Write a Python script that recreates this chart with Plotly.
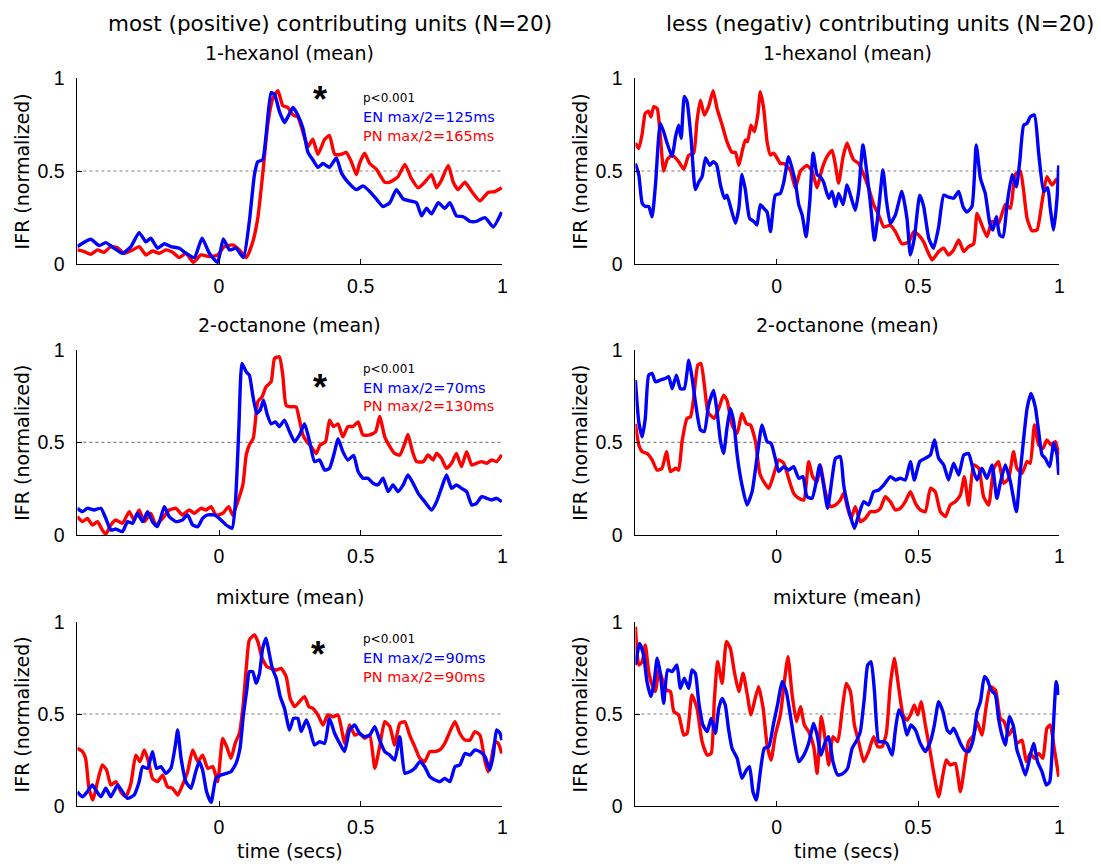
import plotly.graph_objects as go

# ---------------- data (time in s, IFR normalized) ----------------
COL_TITLES = ["most (positive) contributing units (N=20)", "less (negativ) contributing units (N=20)"]
ODOR_TITLES = ["1-hexanol (mean)", "2-octanone (mean)", "mixture (mean)"]
P_TEXT = ["p<0.001", "p<0.001", "p<0.001"]
EN_TEXT = ["EN max/2=125ms", "EN max/2=70ms", "EN max/2=90ms"]
PN_TEXT = ["PN max/2=165ms", "PN max/2=130ms", "PN max/2=90ms"]
Y_LABEL = "IFR (normalized)"
X_LABEL = "time (secs)"
TICKS = [0, 0.5, 1]

# 1-hexanol, most (positive) contributing units
HEX_POS_EN_T = [-0.500,-0.453,-0.423,-0.400,-0.370,-0.341,-0.311,-0.282,-0.258,-0.241,-0.217,-0.193,-0.170,-0.140,-0.117,-0.087,-0.060,-0.034,-0.005,0.015,0.037,0.060,0.086,0.107,0.125,0.137,0.154,0.166,0.184,0.196,0.213,0.231,0.243,0.261,0.278,0.296,0.314,0.331,0.349,0.367,0.390,0.414,0.432,0.455,0.485,0.508,0.532,0.555,0.579,0.603,0.626,0.650,0.673,0.697,0.715,0.732,0.750,0.774,0.797,0.815,0.838,0.862,0.886,0.909,0.939,0.968,0.998]
HEX_POS_EN_Y = [0.095,0.134,0.10,0.116,0.086,0.059,0.095,0.17,0.12,0.14,0.086,0.11,0.095,0.086,0.059,0.036,0.14,0.059,0.01,0.136,0.077,0.086,0.036,0.23,0.48,0.55,0.56,0.69,0.92,0.91,0.82,0.76,0.79,0.84,0.80,0.73,0.60,0.56,0.52,0.54,0.52,0.57,0.49,0.44,0.40,0.42,0.39,0.35,0.31,0.33,0.40,0.35,0.34,0.33,0.26,0.30,0.27,0.33,0.30,0.33,0.26,0.255,0.23,0.23,0.25,0.20,0.28]
HEX_POS_PN_T = [-0.500,-0.476,-0.453,-0.429,-0.406,-0.382,-0.358,-0.335,-0.305,-0.282,-0.258,-0.235,-0.211,-0.188,-0.164,-0.140,-0.117,-0.091,-0.064,-0.034,-0.005,0.019,0.048,0.072,0.096,0.119,0.137,0.154,0.172,0.190,0.208,0.225,0.243,0.261,0.278,0.296,0.314,0.331,0.349,0.373,0.390,0.408,0.432,0.449,0.467,0.485,0.496,0.514,0.532,0.555,0.585,0.603,0.632,0.656,0.679,0.703,0.726,0.750,0.768,0.785,0.809,0.827,0.844,0.868,0.892,0.921,0.950,0.974,0.998]
HEX_POS_PN_Y = [0.077,0.068,0.054,0.077,0.064,0.095,0.089,0.059,0.077,0.095,0.05,0.071,0.059,0.077,0.064,0.036,0.059,0.011,0.05,0.041,0.05,0.095,0.104,0.077,0.036,0.12,0.25,0.48,0.75,0.89,0.93,0.85,0.84,0.80,0.79,0.71,0.63,0.67,0.59,0.67,0.69,0.59,0.59,0.60,0.55,0.48,0.54,0.595,0.54,0.51,0.44,0.44,0.47,0.535,0.46,0.41,0.44,0.48,0.41,0.45,0.53,0.44,0.40,0.44,0.39,0.34,0.385,0.39,0.41]

# 1-hexanol, less (negativ) contributing units
HEX_NEG_EN_T = [-0.500,-0.488,-0.476,-0.465,-0.453,-0.441,-0.429,-0.412,-0.400,-0.388,-0.370,-0.358,-0.347,-0.338,-0.327,-0.317,-0.303,-0.288,-0.276,-0.264,-0.252,-0.237,-0.225,-0.213,-0.199,-0.185,-0.176,-0.162,-0.146,-0.134,-0.123,-0.111,-0.096,-0.081,-0.070,-0.058,-0.046,-0.034,-0.022,-0.005,0.013,0.025,0.042,0.054,0.066,0.078,0.090,0.104,0.117,0.129,0.143,0.154,0.166,0.184,0.196,0.208,0.219,0.235,0.249,0.263,0.278,0.290,0.305,0.320,0.331,0.346,0.361,0.376,0.388,0.402,0.420,0.443,0.461,0.473,0.487,0.506,0.520,0.538,0.555,0.573,0.591,0.608,0.626,0.644,0.659,0.673,0.691,0.706,0.721,0.738,0.754,0.765,0.777,0.789,0.801,0.815,0.833,0.848,0.860,0.874,0.886,0.897,0.912,0.927,0.945,0.959,0.968,0.980,0.992,0.998]
HEX_NEG_EN_Y = [0.54,0.48,0.327,0.31,0.31,0.255,0.425,0.755,0.71,0.65,0.577,0.684,0.746,0.675,0.90,0.87,0.675,0.40,0.44,0.47,0.57,0.53,0.55,0.535,0.425,0.354,0.37,0.30,0.22,0.30,0.482,0.40,0.246,0.23,0.21,0.32,0.30,0.28,0.175,0.37,0.38,0.44,0.577,0.516,0.44,0.32,0.265,0.148,0.335,0.595,0.48,0.47,0.44,0.354,0.39,0.31,0.38,0.32,0.425,0.36,0.29,0.39,0.64,0.48,0.335,0.13,0.30,0.505,0.345,0.22,0.265,0.39,0.246,0.05,0.14,0.37,0.31,0.14,0.086,0.20,0.37,0.36,0.354,0.39,0.31,0.28,0.31,0.64,0.46,0.38,0.22,0.184,0.255,0.157,0.148,0.32,0.48,0.415,0.55,0.746,0.755,0.79,0.80,0.595,0.39,0.41,0.30,0.184,0.354,0.53]
HEX_NEG_PN_T = [-0.500,-0.488,-0.476,-0.465,-0.453,-0.445,-0.435,-0.423,-0.412,-0.400,-0.388,-0.370,-0.347,-0.329,-0.311,-0.294,-0.282,-0.270,-0.256,-0.241,-0.225,-0.211,-0.193,-0.176,-0.158,-0.146,-0.134,-0.123,-0.111,-0.103,-0.091,-0.079,-0.067,-0.058,-0.046,-0.034,-0.022,-0.011,0.001,0.013,0.025,0.048,0.066,0.084,0.107,0.125,0.143,0.160,0.178,0.196,0.208,0.219,0.235,0.249,0.261,0.272,0.290,0.308,0.325,0.343,0.361,0.379,0.402,0.420,0.443,0.467,0.485,0.502,0.520,0.532,0.550,0.573,0.591,0.608,0.626,0.644,0.662,0.679,0.697,0.709,0.726,0.744,0.762,0.785,0.809,0.827,0.844,0.862,0.874,0.886,0.903,0.921,0.939,0.956,0.974,0.992]
HEX_NEG_PN_Y = [0.65,0.62,0.70,0.81,0.82,0.79,0.845,0.835,0.69,0.50,0.56,0.585,0.55,0.51,0.585,0.595,0.77,0.88,0.80,0.845,0.93,0.835,0.746,0.657,0.60,0.60,0.53,0.60,0.666,0.657,0.746,0.71,0.80,0.925,0.835,0.657,0.585,0.595,0.57,0.54,0.54,0.505,0.41,0.50,0.53,0.50,0.41,0.51,0.577,0.61,0.53,0.435,0.577,0.65,0.60,0.56,0.54,0.48,0.41,0.32,0.265,0.20,0.21,0.175,0.11,0.12,0.175,0.157,0.12,0.077,0.023,0.068,0.086,0.05,0.077,0.13,0.068,0.095,0.11,0.273,0.21,0.148,0.23,0.22,0.32,0.30,0.48,0.50,0.39,0.246,0.18,0.184,0.335,0.47,0.425,0.46]

# 2-octanone, most (positive) contributing units
OCT_POS_EN_T = [-0.500,-0.482,-0.465,-0.441,-0.417,-0.400,-0.382,-0.364,-0.341,-0.323,-0.305,-0.288,-0.270,-0.252,-0.235,-0.217,-0.193,-0.176,-0.152,-0.129,-0.111,-0.093,-0.075,-0.058,-0.040,-0.017,0.007,0.025,0.046,0.058,0.070,0.081,0.096,0.107,0.119,0.133,0.145,0.157,0.169,0.184,0.199,0.213,0.231,0.249,0.267,0.284,0.302,0.320,0.337,0.355,0.373,0.390,0.408,0.420,0.437,0.455,0.475,0.491,0.508,0.526,0.544,0.561,0.579,0.597,0.614,0.632,0.650,0.667,0.685,0.703,0.726,0.750,0.768,0.785,0.803,0.821,0.838,0.856,0.874,0.892,0.909,0.927,0.945,0.962,0.980,0.998]
OCT_POS_EN_Y = [0.144,0.126,0.144,0.135,0.144,0.09,0.027,0.032,0.018,0.072,0.063,0.117,0.072,0.126,0.072,0.045,0.153,0.099,0.072,0.081,0.108,0.054,0.045,0.09,0.108,0.108,0.081,0.054,0.036,0.18,0.576,0.926,0.88,0.863,0.755,0.656,0.674,0.728,0.656,0.60,0.61,0.585,0.62,0.557,0.503,0.54,0.60,0.503,0.396,0.405,0.35,0.36,0.45,0.52,0.45,0.405,0.43,0.342,0.306,0.306,0.279,0.27,0.306,0.234,0.27,0.234,0.27,0.324,0.279,0.225,0.18,0.135,0.18,0.252,0.324,0.252,0.27,0.252,0.234,0.162,0.171,0.207,0.198,0.189,0.198,0.18]
OCT_POS_PN_T = [-0.500,-0.482,-0.465,-0.447,-0.429,-0.412,-0.400,-0.382,-0.364,-0.341,-0.317,-0.300,-0.282,-0.264,-0.241,-0.223,-0.199,-0.176,-0.152,-0.129,-0.105,-0.087,-0.064,-0.046,-0.028,-0.011,0.013,0.034,0.048,0.066,0.084,0.096,0.107,0.121,0.137,0.152,0.166,0.184,0.196,0.213,0.225,0.237,0.255,0.272,0.284,0.296,0.310,0.325,0.343,0.357,0.376,0.390,0.404,0.420,0.437,0.455,0.473,0.491,0.508,0.532,0.553,0.567,0.585,0.603,0.620,0.638,0.656,0.667,0.683,0.697,0.721,0.738,0.756,0.768,0.785,0.803,0.821,0.838,0.856,0.874,0.892,0.909,0.927,0.945,0.962,0.980,0.998]
OCT_POS_PN_Y = [0.099,0.072,0.09,0.054,0.072,0.027,0.004,0.054,0.081,0.063,0.126,0.081,0.135,0.072,0.117,0.054,0.09,0.135,0.144,0.108,0.135,0.117,0.144,0.135,0.153,0.108,0.117,0.153,0.108,0.18,0.27,0.432,0.486,0.522,0.72,0.746,0.80,0.827,0.953,0.962,0.863,0.70,0.692,0.692,0.62,0.54,0.503,0.477,0.44,0.486,0.503,0.62,0.585,0.60,0.53,0.585,0.585,0.61,0.54,0.54,0.557,0.64,0.53,0.477,0.44,0.432,0.495,0.543,0.45,0.396,0.396,0.432,0.405,0.44,0.414,0.36,0.387,0.44,0.369,0.45,0.378,0.387,0.396,0.387,0.405,0.396,0.432]

# 2-octanone, less (negativ) contributing units
OCT_NEG_EN_T = [-0.500,-0.488,-0.476,-0.465,-0.453,-0.441,-0.429,-0.412,-0.394,-0.382,-0.370,-0.355,-0.341,-0.327,-0.311,-0.300,-0.288,-0.270,-0.256,-0.241,-0.223,-0.211,-0.199,-0.188,-0.176,-0.164,-0.152,-0.140,-0.123,-0.105,-0.087,-0.070,-0.052,-0.034,-0.020,-0.005,0.007,0.025,0.042,0.060,0.078,0.093,0.107,0.125,0.140,0.152,0.166,0.180,0.196,0.208,0.225,0.237,0.251,0.263,0.275,0.290,0.308,0.325,0.343,0.361,0.379,0.402,0.420,0.437,0.455,0.473,0.487,0.506,0.526,0.544,0.558,0.573,0.591,0.608,0.626,0.644,0.662,0.679,0.697,0.709,0.726,0.744,0.762,0.779,0.791,0.809,0.827,0.848,0.862,0.874,0.886,0.900,0.915,0.927,0.939,0.950,0.966,0.980,0.992,0.998]
OCT_NEG_EN_Y = [0.836,0.61,0.53,0.63,0.863,0.872,0.827,0.836,0.845,0.854,0.79,0.863,0.79,0.79,0.944,0.854,0.72,0.567,0.558,0.70,0.78,0.665,0.507,0.44,0.576,0.683,0.61,0.432,0.27,0.162,0.234,0.414,0.594,0.504,0.495,0.414,0.342,0.369,0.351,0.369,0.306,0.315,0.207,0.198,0.288,0.378,0.27,0.144,0.306,0.414,0.423,0.27,0.162,0.09,0.036,0.108,0.18,0.162,0.234,0.243,0.27,0.315,0.297,0.306,0.297,0.396,0.297,0.396,0.414,0.432,0.513,0.414,0.378,0.297,0.387,0.324,0.432,0.44,0.342,0.297,0.36,0.306,0.378,0.198,0.279,0.378,0.288,0.126,0.342,0.522,0.683,0.764,0.692,0.558,0.432,0.414,0.369,0.495,0.432,0.324]
OCT_NEG_PN_T = [-0.500,-0.488,-0.476,-0.459,-0.441,-0.423,-0.406,-0.390,-0.376,-0.358,-0.347,-0.335,-0.317,-0.305,-0.294,-0.279,-0.268,-0.256,-0.244,-0.235,-0.221,-0.205,-0.188,-0.176,-0.158,-0.140,-0.123,-0.107,-0.093,-0.075,-0.060,-0.046,-0.028,-0.011,0.007,0.025,0.042,0.060,0.078,0.096,0.113,0.127,0.143,0.154,0.172,0.190,0.208,0.225,0.237,0.251,0.263,0.278,0.296,0.314,0.331,0.349,0.367,0.384,0.402,0.420,0.437,0.455,0.473,0.491,0.508,0.526,0.544,0.561,0.579,0.597,0.614,0.632,0.650,0.664,0.679,0.697,0.715,0.732,0.750,0.768,0.785,0.803,0.821,0.838,0.850,0.868,0.886,0.897,0.912,0.927,0.942,0.956,0.971,0.986,0.998]
OCT_NEG_PN_Y = [0.60,0.486,0.45,0.44,0.405,0.35,0.36,0.45,0.342,0.36,0.35,0.504,0.63,0.638,0.737,0.917,0.926,0.81,0.665,0.647,0.63,0.683,0.755,0.728,0.594,0.549,0.656,0.60,0.594,0.504,0.333,0.288,0.252,0.324,0.405,0.387,0.306,0.225,0.198,0.189,0.396,0.315,0.288,0.378,0.234,0.153,0.162,0.189,0.225,0.144,0.09,0.153,0.072,0.09,0.126,0.126,0.144,0.207,0.18,0.135,0.144,0.18,0.234,0.171,0.135,0.126,0.252,0.234,0.126,0.099,0.162,0.18,0.216,0.315,0.162,0.378,0.36,0.207,0.162,0.36,0.396,0.279,0.306,0.45,0.36,0.333,0.396,0.387,0.594,0.486,0.468,0.513,0.486,0.504,0.432]

# mixture, most (positive) contributing units
MIX_POS_EN_T = [-0.500,-0.482,-0.465,-0.447,-0.435,-0.417,-0.400,-0.382,-0.358,-0.341,-0.323,-0.300,-0.282,-0.270,-0.252,-0.235,-0.221,-0.205,-0.188,-0.170,-0.154,-0.146,-0.134,-0.117,-0.099,-0.084,-0.070,-0.058,-0.044,-0.028,-0.011,0.007,0.025,0.042,0.060,0.074,0.086,0.098,0.107,0.119,0.131,0.143,0.154,0.166,0.176,0.188,0.202,0.216,0.231,0.249,0.263,0.278,0.290,0.308,0.320,0.337,0.355,0.373,0.390,0.408,0.426,0.443,0.461,0.479,0.496,0.514,0.532,0.550,0.567,0.585,0.603,0.620,0.638,0.656,0.673,0.691,0.709,0.726,0.744,0.762,0.779,0.797,0.815,0.833,0.850,0.868,0.886,0.903,0.921,0.939,0.956,0.968,0.980,0.992,0.998]
MIX_POS_EN_Y = [0.076,0.049,0.076,0.113,0.085,0.049,0.095,0.049,0.113,0.076,0.04,0.058,0.131,0.213,0.204,0.295,0.204,0.213,0.176,0.204,0.331,0.413,0.258,0.131,0.095,0.176,0.24,0.195,0.076,0.018,0.149,0.167,0.176,0.185,0.231,0.313,0.495,0.631,0.731,0.731,0.667,0.722,0.858,0.913,0.84,0.749,0.695,0.595,0.531,0.413,0.476,0.476,0.404,0.467,0.422,0.331,0.349,0.34,0.476,0.395,0.34,0.295,0.413,0.44,0.395,0.376,0.385,0.431,0.358,0.295,0.276,0.249,0.376,0.176,0.185,0.204,0.24,0.213,0.158,0.14,0.131,0.149,0.131,0.213,0.222,0.285,0.276,0.304,0.295,0.267,0.195,0.276,0.413,0.395,0.358]
MIX_POS_PN_T = [-0.500,-0.482,-0.471,-0.459,-0.445,-0.429,-0.412,-0.397,-0.382,-0.364,-0.347,-0.329,-0.311,-0.294,-0.279,-0.264,-0.249,-0.235,-0.217,-0.199,-0.182,-0.164,-0.146,-0.129,-0.111,-0.093,-0.075,-0.058,-0.040,-0.022,-0.005,0.013,0.027,0.042,0.057,0.072,0.084,0.096,0.107,0.125,0.137,0.152,0.169,0.184,0.202,0.219,0.237,0.251,0.267,0.284,0.302,0.317,0.331,0.349,0.367,0.384,0.402,0.420,0.432,0.443,0.461,0.479,0.496,0.514,0.532,0.550,0.567,0.585,0.603,0.620,0.638,0.656,0.673,0.691,0.709,0.726,0.744,0.762,0.779,0.797,0.815,0.833,0.850,0.868,0.886,0.903,0.921,0.939,0.950,0.962,0.974,0.986,0.998]
MIX_POS_PN_Y = [0.313,0.295,0.258,0.095,0.031,0.131,0.222,0.195,0.113,0.131,0.076,0.049,0.122,0.276,0.24,0.304,0.24,0.149,0.131,0.167,0.104,0.095,0.058,0.113,0.185,0.304,0.24,0.276,0.204,0.213,0.131,0.367,0.322,0.258,0.34,0.395,0.531,0.749,0.904,0.931,0.895,0.804,0.758,0.749,0.74,0.749,0.704,0.585,0.54,0.567,0.595,0.54,0.531,0.495,0.44,0.495,0.485,0.495,0.422,0.34,0.44,0.385,0.395,0.367,0.385,0.204,0.322,0.458,0.431,0.331,0.449,0.458,0.385,0.322,0.258,0.24,0.295,0.295,0.304,0.34,0.404,0.458,0.395,0.358,0.358,0.404,0.385,0.24,0.185,0.258,0.349,0.34,0.285]

# mixture, less (negativ) contributing units
MIX_NEG_EN_T = [-0.500,-0.485,-0.471,-0.459,-0.445,-0.435,-0.423,-0.412,-0.400,-0.386,-0.370,-0.353,-0.341,-0.327,-0.311,-0.300,-0.288,-0.276,-0.261,-0.246,-0.232,-0.217,-0.205,-0.193,-0.182,-0.170,-0.158,-0.140,-0.123,-0.107,-0.096,-0.084,-0.072,-0.058,-0.044,-0.028,-0.011,0.004,0.019,0.034,0.048,0.063,0.078,0.096,0.113,0.131,0.143,0.157,0.172,0.184,0.199,0.216,0.235,0.251,0.267,0.284,0.296,0.310,0.322,0.334,0.346,0.361,0.376,0.390,0.408,0.420,0.432,0.447,0.461,0.475,0.491,0.508,0.526,0.544,0.558,0.573,0.588,0.603,0.614,0.626,0.638,0.650,0.664,0.679,0.695,0.709,0.721,0.735,0.746,0.758,0.774,0.785,0.797,0.809,0.824,0.838,0.850,0.864,0.880,0.895,0.909,0.923,0.939,0.954,0.966,0.978,0.989,0.998]
MIX_NEG_EN_Y = [0.767,0.885,0.822,0.676,0.595,0.658,0.804,0.722,0.558,0.74,0.731,0.767,0.64,0.695,0.64,0.74,0.722,0.567,0.44,0.404,0.476,0.395,0.531,0.585,0.549,0.413,0.313,0.258,0.149,0.195,0.213,0.076,0.031,0.185,0.313,0.322,0.449,0.558,0.676,0.622,0.495,0.349,0.24,0.276,0.34,0.449,0.385,0.276,0.349,0.376,0.24,0.167,0.176,0.204,0.313,0.358,0.404,0.585,0.767,0.785,0.622,0.349,0.349,0.34,0.276,0.413,0.522,0.476,0.385,0.44,0.413,0.34,0.295,0.349,0.44,0.567,0.513,0.413,0.395,0.422,0.385,0.34,0.304,0.295,0.358,0.513,0.567,0.704,0.685,0.631,0.604,0.476,0.385,0.331,0.485,0.431,0.304,0.24,0.167,0.258,0.34,0.24,0.185,0.113,0.131,0.404,0.676,0.604]
MIX_NEG_PN_T = [-0.500,-0.488,-0.476,-0.465,-0.453,-0.441,-0.429,-0.417,-0.402,-0.390,-0.376,-0.364,-0.347,-0.329,-0.317,-0.300,-0.282,-0.264,-0.246,-0.232,-0.221,-0.209,-0.193,-0.178,-0.164,-0.150,-0.134,-0.119,-0.105,-0.091,-0.079,-0.064,-0.048,-0.034,-0.020,-0.005,0.013,0.027,0.040,0.054,0.070,0.084,0.098,0.113,0.131,0.143,0.158,0.172,0.184,0.199,0.216,0.231,0.246,0.261,0.275,0.290,0.308,0.325,0.343,0.357,0.373,0.388,0.402,0.416,0.432,0.447,0.461,0.473,0.487,0.499,0.511,0.526,0.541,0.555,0.573,0.588,0.600,0.614,0.632,0.650,0.667,0.679,0.697,0.709,0.726,0.742,0.756,0.774,0.791,0.805,0.821,0.836,0.850,0.868,0.883,0.897,0.912,0.927,0.942,0.956,0.968,0.982,0.998]
MIX_NEG_PN_Y = [0.976,0.767,0.785,0.876,0.731,0.658,0.622,0.74,0.676,0.631,0.622,0.513,0.495,0.385,0.395,0.604,0.531,0.349,0.276,0.285,0.567,0.785,0.667,0.895,0.858,0.731,0.622,0.722,0.613,0.495,0.567,0.649,0.531,0.331,0.249,0.385,0.495,0.676,0.813,0.613,0.458,0.54,0.44,0.404,0.322,0.176,0.485,0.358,0.222,0.376,0.349,0.513,0.667,0.622,0.44,0.349,0.24,0.295,0.376,0.322,0.322,0.395,0.658,0.804,0.64,0.495,0.467,0.495,0.549,0.495,0.567,0.44,0.313,0.185,0.049,0.167,0.249,0.222,0.231,0.076,0.24,0.349,0.385,0.458,0.385,0.549,0.649,0.631,0.476,0.458,0.385,0.422,0.34,0.358,0.24,0.285,0.258,0.285,0.258,0.422,0.44,0.313,0.158]

# (row, col) -> (EN series, PN series)
PANELS = [
    [((HEX_POS_EN_T, HEX_POS_EN_Y), (HEX_POS_PN_T, HEX_POS_PN_Y)),
     ((HEX_NEG_EN_T, HEX_NEG_EN_Y), (HEX_NEG_PN_T, HEX_NEG_PN_Y))],
    [((OCT_POS_EN_T, OCT_POS_EN_Y), (OCT_POS_PN_T, OCT_POS_PN_Y)),
     ((OCT_NEG_EN_T, OCT_NEG_EN_Y), (OCT_NEG_PN_T, OCT_NEG_PN_Y))],
    [((MIX_POS_EN_T, MIX_POS_EN_Y), (MIX_POS_PN_T, MIX_POS_PN_Y)),
     ((MIX_NEG_EN_T, MIX_NEG_EN_Y), (MIX_NEG_PN_T, MIX_NEG_PN_Y))],
]

# ---------------- layout ----------------
OFF = 8                      # default page body margin
W, H = 1101 - OFF, 864 - OFF
BLUE, RED = "#0000FF", "#FF0000"
TICK_FONT = dict(family="Liberation Sans, Arial, sans-serif", size=19.5, color="black")
TEXT_FAMILY = "DejaVu Sans, Liberation Sans, sans-serif"
LINE_W = 3.4

# pixel extents (in the target picture) of the axes boxes
X_PIX = [(77.4, 502.3), (635.4, 1059.3)]
Y_PIX = [(77.7, 264.3), (349.7, 535.0), (622.3, 805.7)]
TITLE_Y_PIX = [53, 325, 597]
ANN_Y = [(0.893, 0.788, 0.688), (0.896, 0.795, 0.696), (0.909, 0.807, 0.704)]
STAR_XY = [(0.357, 0.885), (0.357, 0.795), (0.349, 0.825)]


def px(x):
    return (x - OFF) / W


def py(y):
    return 1 - (y - OFF) / H


fig = go.Figure()
annotations = []
shapes = []

for r in range(3):
    for c in range(2):
        k = r * 2 + c + 1
        sfx = "" if k == 1 else str(k)
        (en_t, en_y), (pn_t, pn_y) = PANELS[r][c]
        n1 = min(len(pn_t), len(pn_y))
        n2 = min(len(en_t), len(en_y))
        fig.add_trace(go.Scatter(x=pn_t[:n1], y=pn_y[:n1], mode="lines",
                                 line=dict(color=RED, width=LINE_W, shape="spline", smoothing=0.5),
                                 showlegend=False, hoverinfo="skip",
                                 xaxis="x" + sfx, yaxis="y" + sfx))
        fig.add_trace(go.Scatter(x=en_t[:n2], y=en_y[:n2], mode="lines",
                                 line=dict(color=BLUE, width=LINE_W, shape="spline", smoothing=0.5),
                                 showlegend=False, hoverinfo="skip",
                                 xaxis="x" + sfx, yaxis="y" + sfx))
        x0, x1 = X_PIX[c]
        y0, y1 = Y_PIX[r]
        common = dict(tickvals=TICKS, ticktext=["0", "0.5", "1"], ticks="inside", ticklen=5,
                      tickwidth=1, tickcolor="black", showline=True, linecolor="black",
                      linewidth=1, showgrid=False, zeroline=False, tickfont=TICK_FONT,
                      automargin=False, fixedrange=True)
        fig.layout["xaxis" + sfx] = dict(domain=[px(x0), px(x1)], range=[-0.5, 1],
                                         anchor="y" + sfx, ticklabelstandoff=4, **common)
        fig.layout["yaxis" + sfx] = dict(domain=[py(y1), py(y0)], range=[0, 1],
                                         anchor="x" + sfx, ticklabelstandoff=8, **common)
        shapes.append(dict(type="line", xref="x" + sfx, yref="y" + sfx,
                           x0=-0.5, x1=1, y0=0.5, y1=0.5, layer="below",
                           line=dict(color="#808080", width=1.2, dash="dot")))
        annotations.append(dict(text=ODOR_TITLES[r], xref="paper", yref="paper",
                                x=px((x0 + x1) / 2), y=py(TITLE_Y_PIX[r]),
                                xanchor="center", yanchor="middle", showarrow=False,
                                font=dict(family=TEXT_FAMILY, size=19, color="black")))
        annotations.append(dict(text=Y_LABEL, xref="paper", yref="paper",
                                x=px(x0 - 55), y=py((y0 + y1) / 2), textangle=-90,
                                xanchor="center", yanchor="middle", showarrow=False,
                                font=dict(family=TEXT_FAMILY, size=19, color="black")))
        if r == 2:
            annotations.append(dict(text=X_LABEL, xref="paper", yref="paper",
                                    x=px((x0 + x1) / 2), y=py(851),
                                    xanchor="center", yanchor="middle", showarrow=False,
                                    font=dict(family=TEXT_FAMILY, size=19, color="black")))
        if c == 0:
            yp, ye, yn = ANN_Y[r]
            for txt, yy, col, sz in ((P_TEXT[r], yp, "black", 12),
                                     (EN_TEXT[r], ye, BLUE, 14.5),
                                     (PN_TEXT[r], yn, RED, 14.5)):
                annotations.append(dict(text=txt, xref="x" + sfx, yref="y" + sfx,
                                        x=0.5, y=yy, xanchor="left", yanchor="middle",
                                        showarrow=False,
                                        font=dict(family=TEXT_FAMILY, size=sz, color=col)))
            sx, sy = STAR_XY[r]
            annotations.append(dict(text="<b>*</b>", xref="x" + sfx, yref="y" + sfx,
                                    x=sx, y=sy, xanchor="center", yanchor="middle",
                                    showarrow=False,
                                    font=dict(family="Liberation Sans, Arial", size=36, color="black")))

for c, title in enumerate(COL_TITLES):
    cx = [330, 880][c]
    annotations.append(dict(text=title, xref="paper", yref="paper",
                            x=px(cx), y=py(23), xanchor="center", yanchor="middle",
                            showarrow=False,
                            font=dict(family=TEXT_FAMILY, size=21.5, color="black")))

fig.update_layout(template="none", width=W, height=H,
                  margin=dict(l=0, r=0, t=0, b=0, pad=0, autoexpand=False),
                  paper_bgcolor="white", plot_bgcolor="white",
                  annotations=annotations, shapes=shapes, showlegend=False)

fig.write_html("out.html")
